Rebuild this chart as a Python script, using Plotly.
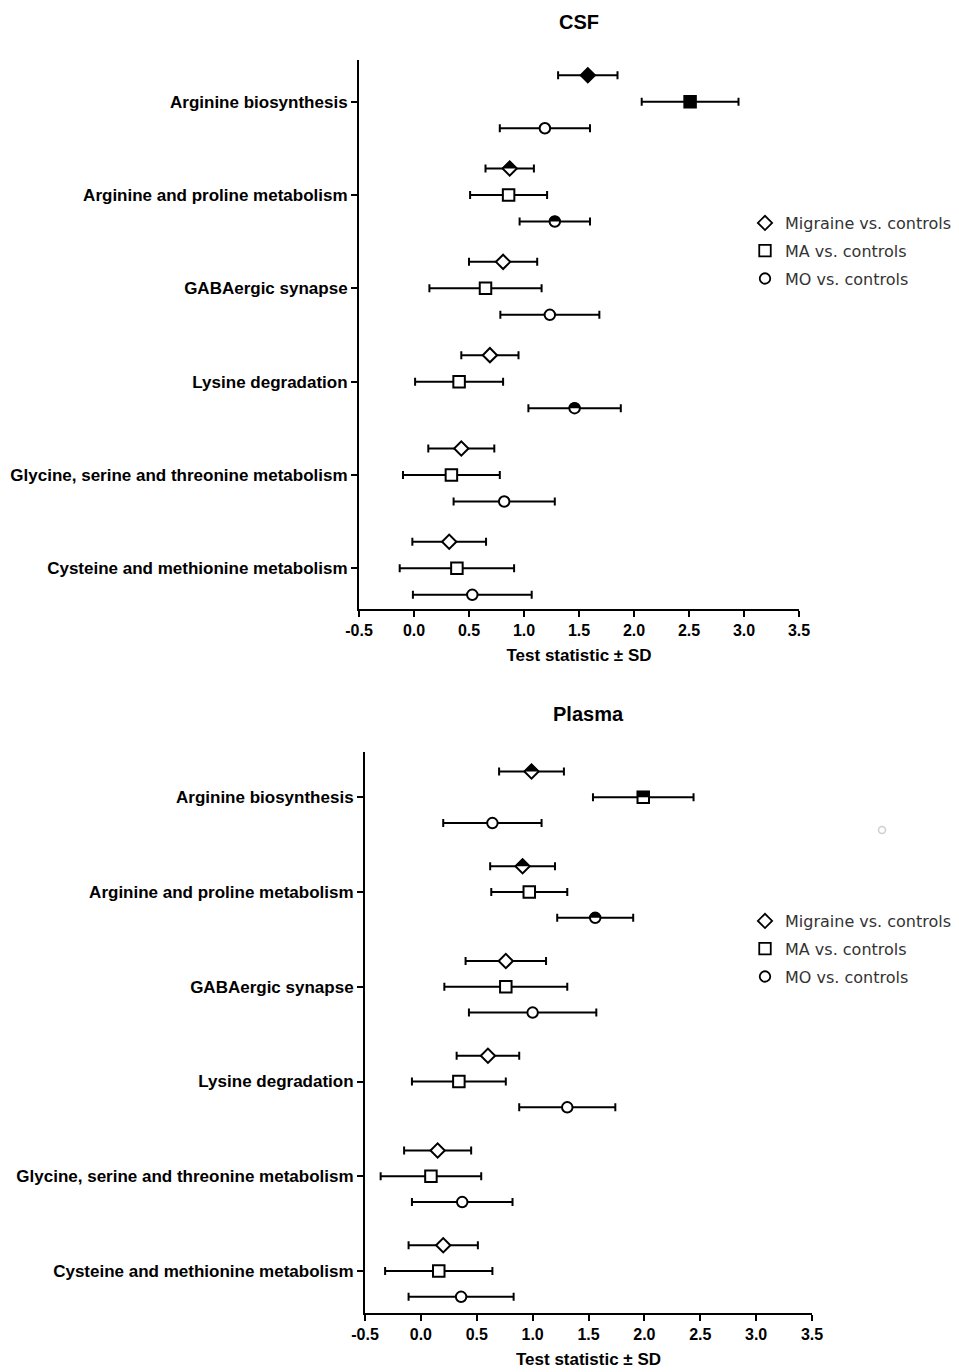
import numpy as np
import plotly.graph_objects as go

# ---------------- data ----------------
categories = ["Arginine biosynthesis", "Arginine and proline metabolism", "GABAergic synapse",
              "Lysine degradation", "Glycine, serine and threonine metabolism",
              "Cysteine and methionine metabolism"]
series_names = ["Migraine vs. controls", "MA vs. controls", "MO vs. controls"]

csf_migraine = [1.58, 0.87, 0.81, 0.69, 0.43, 0.32]
csf_migraine_sd = [0.27, 0.22, 0.31, 0.26, 0.30, 0.335]
csf_ma = [2.51, 0.86, 0.65, 0.41, 0.34, 0.39]
csf_ma_sd = [0.44, 0.35, 0.51, 0.40, 0.44, 0.52]
csf_mo = [1.19, 1.28, 1.235, 1.46, 0.82, 0.53]
csf_mo_sd = [0.41, 0.32, 0.45, 0.42, 0.46, 0.54]

plasma_migraine = [0.99, 0.91, 0.76, 0.60, 0.15, 0.20]
plasma_migraine_sd = [0.29, 0.29, 0.36, 0.28, 0.30, 0.31]
plasma_ma = [1.99, 0.97, 0.76, 0.34, 0.09, 0.16]
plasma_ma_sd = [0.45, 0.34, 0.55, 0.42, 0.45, 0.48]
plasma_mo = [0.64, 1.56, 1.00, 1.31, 0.37, 0.36]
plasma_mo_sd = [0.44, 0.34, 0.57, 0.43, 0.45, 0.47]

# marker fill state: open / full / half (upper half filled)
csf_migraine_fill = ["full", "half", "open", "open", "open", "open"]
csf_ma_fill = ["full", "open", "open", "open", "open", "open"]
csf_mo_fill = ["open", "half", "open", "half", "open", "open"]
plasma_migraine_fill = ["half", "half", "open", "open", "open", "open"]
plasma_ma_fill = ["half", "open", "open", "open", "open", "open"]
plasma_mo_fill = ["open", "half", "open", "open", "open", "open"]

x_ticks = [-0.5, 0.0, 0.5, 1.0, 1.5, 2.0, 2.5, 3.0, 3.5]
x_tick_labels = ["-0.5", "0.0", "0.5", "1.0", "1.5", "2.0", "2.5", "3.0", "3.5"]

# ---------------- layout constants ----------------
W, H = 959, 1372
O = 8  # page body margin
FONT = "Liberation Sans, Arial, sans-serif"
symbols = ["diamond", "square", "circle"]
msizes = [11, 11.5, 10.5]


def fx(px):
    return (px - O) / W


def fy(py):
    return 1 - (py - O) / H


panels = [
    dict(title="CSF", xa="x", ya="y", xdom=[fx(359), fx(799)], ydom=[fy(609), fy(60)],
         yr=[-5.436, 0.447], off=0.284, legend="legend", legtop=206,
         vals=[csf_migraine, csf_ma, csf_mo], sds=[csf_migraine_sd, csf_ma_sd, csf_mo_sd],
         fills=[csf_migraine_fill, csf_ma_fill, csf_mo_fill]),
    dict(title="Plasma", xa="x2", ya="y2", xdom=[fx(365), fx(812)], ydom=[fy(1313), fy(752)],
         yr=[-5.443, 0.478], off=0.272, legend="legend2", legtop=904,
         vals=[plasma_migraine, plasma_ma, plasma_mo], sds=[plasma_migraine_sd, plasma_ma_sd, plasma_mo_sd],
         fills=[plasma_migraine_fill, plasma_ma_fill, plasma_mo_fill]),
]

fig = go.Figure()
shapes = []
annotations = []
cat_pos = [-i for i in range(len(categories))]


def half_path(sym, ms):
    if sym == "circle":
        r = ms / 2 + 0.6
        pts = [(r * np.cos(t), r * np.sin(t)) for t in np.linspace(0, np.pi, 25)]
    elif sym == "diamond":
        d = 1.3 * ms / 2 + 0.6
        pts = [(d, 0), (0, d), (-d, 0)]
    else:
        s = ms / 2 + 0.6
        pts = [(s, 0), (s, s), (-s, s), (-s, 0)]
    return "M " + " L ".join(f"{px:.2f},{py:.2f}" for px, py in pts) + " Z"


for p in panels:
    for k in range(3):
        offset = p["off"] * (1 - k)
        ypos = [c + offset for c in cat_pos]
        colors = ["black" if f == "full" else "white" for f in p["fills"][k]]
        fig.add_trace(go.Scatter(
            x=p["vals"][k], y=ypos, mode="markers", xaxis=p["xa"], yaxis=p["ya"],
            marker=dict(symbol=symbols[k], size=msizes[k], color=colors,
                        line=dict(color="black", width=2)),
            error_x=dict(type="data", array=p["sds"][k], color="black", thickness=2, width=4),
            showlegend=False, hoverinfo="skip"))
        # legend proxy
        fig.add_trace(go.Scatter(
            x=[None], y=[None], mode="markers", xaxis=p["xa"], yaxis=p["ya"], name=series_names[k],
            marker=dict(symbol=symbols[k], size=msizes[k], color="white",
                        line=dict(color="black", width=1.8)),
            legend=p["legend"], legendgroup=p["legend"] + str(k), showlegend=True))
        for xv, yv, f in zip(p["vals"][k], ypos, p["fills"][k]):
            if f == "half":
                shapes.append(dict(type="path", xref=p["xa"], yref=p["ya"], xsizemode="pixel",
                                   ysizemode="pixel", xanchor=xv, yanchor=yv,
                                   path=half_path(symbols[k], msizes[k]),
                                   fillcolor="black", line=dict(width=0), layer="above"))
    annotations.append(dict(text="<b>" + p["title"] + "</b>", xref="paper", yref="paper",
                            x=(p["xdom"][0] + p["xdom"][1]) / 2,
                            y=p["ydom"][1] + (38 / H), xanchor="center", yanchor="middle",
                            showarrow=False, font=dict(family=FONT, size=20, color="black")))

# faint artifact ring in the plasma panel
shapes.append(dict(type="circle", xref="paper", yref="paper", x0=fx(878.5), x1=fx(885.5),
                   y0=fy(833.5), y1=fy(826.5), line=dict(color="#cfcfcf", width=1.5)))

axis_common = dict(showline=True, linecolor="black", linewidth=2, ticks="outside", ticklen=6,
                   tickwidth=2, tickcolor="black", showgrid=False, zeroline=False)

layout = dict(
    width=W, height=H, paper_bgcolor="white", plot_bgcolor="white",
    margin=dict(l=0, r=0, t=0, b=0, autoexpand=False),
    shapes=shapes, annotations=annotations,
)
for i, p in enumerate(panels):
    xs = "xaxis" if i == 0 else "xaxis2"
    ys = "yaxis" if i == 0 else "yaxis2"
    layout[xs] = dict(domain=p["xdom"], range=[-0.5, 3.5], anchor=p["ya"], tickmode="array",
                      tickvals=x_ticks, ticktext=x_tick_labels, automargin=False,
                      tickfont=dict(family=FONT, size=16, color="black", weight="bold"),
                      title=dict(text="Test statistic ± SD", standoff=11,
                                 font=dict(family=FONT, size=17, color="black", weight="bold")),
                      **axis_common)
    layout[ys] = dict(domain=p["ydom"], range=p["yr"], anchor=p["xa"], tickmode="array",
                      tickvals=cat_pos, ticktext=categories, automargin=False,
                      tickfont=dict(family=FONT, size=17, color="black", weight="bold"),
                      **axis_common)
    leg = dict(x=fx(745), y=fy(p["legtop"]), xanchor="left", yanchor="top",
               font=dict(family="DejaVu Sans, sans-serif", size=16, color="#333333"),
               bgcolor="rgba(0,0,0,0)", tracegroupgap=4, itemsizing="trace")
    layout["legend" if i == 0 else "legend2"] = leg

fig.update_layout(**layout)
fig.write_html("out.html")
